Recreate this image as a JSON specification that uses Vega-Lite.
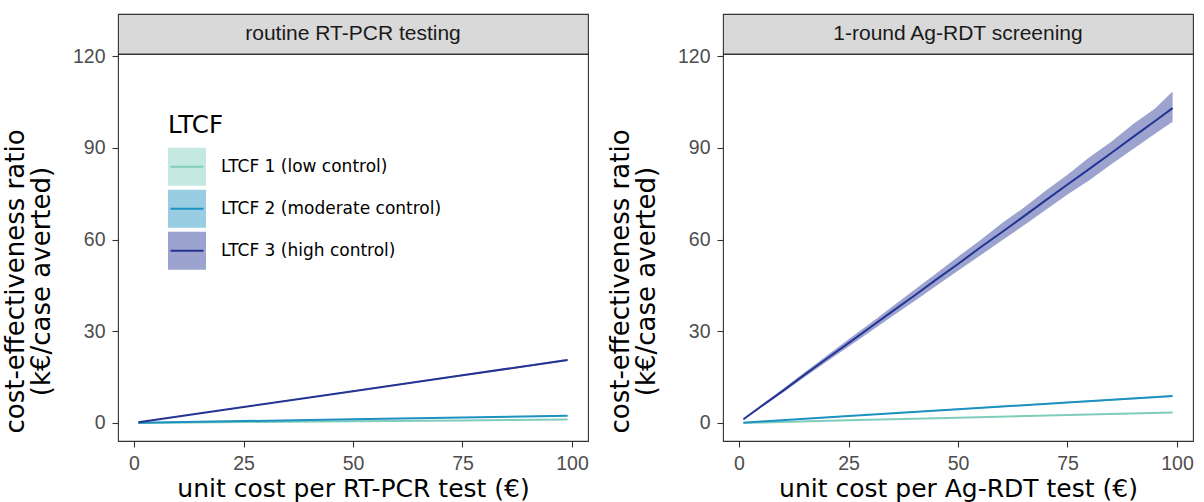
{
  "$schema": "https://vega.github.io/schema/vega-lite/v6.json",
  "background": "white",
  "padding": {"left": 1, "top": 13, "right": 4, "bottom": 0},
  "datasets": {
    "ce": [
      {"panel": "routine RT-PCR testing", "ltcf": "LTCF 1 (low control)", "cost": 1, "mean": 0.0, "lo": 0.0, "hi": 0.05},
      {"panel": "routine RT-PCR testing", "ltcf": "LTCF 1 (low control)", "cost": 25, "mean": 0.28, "lo": 0.24, "hi": 0.32},
      {"panel": "routine RT-PCR testing", "ltcf": "LTCF 1 (low control)", "cost": 50, "mean": 0.56, "lo": 0.5, "hi": 0.62},
      {"panel": "routine RT-PCR testing", "ltcf": "LTCF 1 (low control)", "cost": 75, "mean": 0.83, "lo": 0.76, "hi": 0.9},
      {"panel": "routine RT-PCR testing", "ltcf": "LTCF 1 (low control)", "cost": 99, "mean": 1.1, "lo": 1.0, "hi": 1.2},
      {"panel": "routine RT-PCR testing", "ltcf": "LTCF 2 (moderate control)", "cost": 1, "mean": 0.05, "lo": 0.02, "hi": 0.08},
      {"panel": "routine RT-PCR testing", "ltcf": "LTCF 2 (moderate control)", "cost": 25, "mean": 0.62, "lo": 0.56, "hi": 0.68},
      {"panel": "routine RT-PCR testing", "ltcf": "LTCF 2 (moderate control)", "cost": 50, "mean": 1.2, "lo": 1.12, "hi": 1.28},
      {"panel": "routine RT-PCR testing", "ltcf": "LTCF 2 (moderate control)", "cost": 75, "mean": 1.8, "lo": 1.7, "hi": 1.9},
      {"panel": "routine RT-PCR testing", "ltcf": "LTCF 2 (moderate control)", "cost": 99, "mean": 2.4, "lo": 2.28, "hi": 2.52},
      {"panel": "routine RT-PCR testing", "ltcf": "LTCF 3 (high control)", "cost": 1, "mean": 0.2, "lo": 0.15, "hi": 0.25},
      {"panel": "routine RT-PCR testing", "ltcf": "LTCF 3 (high control)", "cost": 25, "mean": 5.2, "lo": 5.05, "hi": 5.35},
      {"panel": "routine RT-PCR testing", "ltcf": "LTCF 3 (high control)", "cost": 50, "mean": 10.4, "lo": 10.2, "hi": 10.6},
      {"panel": "routine RT-PCR testing", "ltcf": "LTCF 3 (high control)", "cost": 75, "mean": 15.6, "lo": 15.35, "hi": 15.85},
      {"panel": "routine RT-PCR testing", "ltcf": "LTCF 3 (high control)", "cost": 99, "mean": 20.6, "lo": 20.3, "hi": 20.9},
      {"panel": "1-round Ag-RDT screening", "ltcf": "LTCF 1 (low control)", "cost": 1, "mean": 0.03, "lo": 0.0, "hi": 0.06},
      {"panel": "1-round Ag-RDT screening", "ltcf": "LTCF 1 (low control)", "cost": 25, "mean": 0.85, "lo": 0.78, "hi": 0.92},
      {"panel": "1-round Ag-RDT screening", "ltcf": "LTCF 1 (low control)", "cost": 50, "mean": 1.72, "lo": 1.62, "hi": 1.82},
      {"panel": "1-round Ag-RDT screening", "ltcf": "LTCF 1 (low control)", "cost": 75, "mean": 2.57, "lo": 2.45, "hi": 2.69},
      {"panel": "1-round Ag-RDT screening", "ltcf": "LTCF 1 (low control)", "cost": 99, "mean": 3.4, "lo": 3.25, "hi": 3.55},
      {"panel": "1-round Ag-RDT screening", "ltcf": "LTCF 2 (moderate control)", "cost": 1, "mean": 0.1, "lo": 0.05, "hi": 0.15},
      {"panel": "1-round Ag-RDT screening", "ltcf": "LTCF 2 (moderate control)", "cost": 25, "mean": 2.25, "lo": 2.1, "hi": 2.4},
      {"panel": "1-round Ag-RDT screening", "ltcf": "LTCF 2 (moderate control)", "cost": 50, "mean": 4.5, "lo": 4.3, "hi": 4.7},
      {"panel": "1-round Ag-RDT screening", "ltcf": "LTCF 2 (moderate control)", "cost": 75, "mean": 6.7, "lo": 6.45, "hi": 6.95},
      {"panel": "1-round Ag-RDT screening", "ltcf": "LTCF 2 (moderate control)", "cost": 99, "mean": 8.8, "lo": 8.5, "hi": 9.1},
      {"panel": "1-round Ag-RDT screening", "ltcf": "LTCF 3 (high control)", "cost": 1, "mean": 1.2, "lo": 1.0, "hi": 1.4},
      {"panel": "1-round Ag-RDT screening", "ltcf": "LTCF 3 (high control)", "cost": 5, "mean": 5.4, "lo": 5.0, "hi": 5.8},
      {"panel": "1-round Ag-RDT screening", "ltcf": "LTCF 3 (high control)", "cost": 10, "mean": 10.5, "lo": 9.9, "hi": 11.1},
      {"panel": "1-round Ag-RDT screening", "ltcf": "LTCF 3 (high control)", "cost": 15, "mean": 15.8, "lo": 15.0, "hi": 16.6},
      {"panel": "1-round Ag-RDT screening", "ltcf": "LTCF 3 (high control)", "cost": 20, "mean": 21.0, "lo": 20.0, "hi": 22.0},
      {"panel": "1-round Ag-RDT screening", "ltcf": "LTCF 3 (high control)", "cost": 25, "mean": 26.1, "lo": 24.9, "hi": 27.4},
      {"panel": "1-round Ag-RDT screening", "ltcf": "LTCF 3 (high control)", "cost": 30, "mean": 31.3, "lo": 29.9, "hi": 32.6},
      {"panel": "1-round Ag-RDT screening", "ltcf": "LTCF 3 (high control)", "cost": 35, "mean": 36.5, "lo": 34.9, "hi": 38.1},
      {"panel": "1-round Ag-RDT screening", "ltcf": "LTCF 3 (high control)", "cost": 40, "mean": 41.6, "lo": 39.8, "hi": 43.5},
      {"panel": "1-round Ag-RDT screening", "ltcf": "LTCF 3 (high control)", "cost": 45, "mean": 46.9, "lo": 44.8, "hi": 48.9},
      {"panel": "1-round Ag-RDT screening", "ltcf": "LTCF 3 (high control)", "cost": 50, "mean": 52.0, "lo": 49.8, "hi": 54.4},
      {"panel": "1-round Ag-RDT screening", "ltcf": "LTCF 3 (high control)", "cost": 55, "mean": 57.3, "lo": 54.7, "hi": 59.7},
      {"panel": "1-round Ag-RDT screening", "ltcf": "LTCF 3 (high control)", "cost": 60, "mean": 62.4, "lo": 59.7, "hi": 65.3},
      {"panel": "1-round Ag-RDT screening", "ltcf": "LTCF 3 (high control)", "cost": 65, "mean": 67.6, "lo": 64.6, "hi": 70.4},
      {"panel": "1-round Ag-RDT screening", "ltcf": "LTCF 3 (high control)", "cost": 70, "mean": 72.8, "lo": 69.7, "hi": 76.0},
      {"panel": "1-round Ag-RDT screening", "ltcf": "LTCF 3 (high control)", "cost": 75, "mean": 78.0, "lo": 74.7, "hi": 81.2},
      {"panel": "1-round Ag-RDT screening", "ltcf": "LTCF 3 (high control)", "cost": 80, "mean": 83.1, "lo": 79.4, "hi": 86.9},
      {"panel": "1-round Ag-RDT screening", "ltcf": "LTCF 3 (high control)", "cost": 85, "mean": 88.3, "lo": 84.6, "hi": 92.0},
      {"panel": "1-round Ag-RDT screening", "ltcf": "LTCF 3 (high control)", "cost": 90, "mean": 93.6, "lo": 89.6, "hi": 97.8},
      {"panel": "1-round Ag-RDT screening", "ltcf": "LTCF 3 (high control)", "cost": 95, "mean": 98.8, "lo": 94.6, "hi": 102.9},
      {"panel": "1-round Ag-RDT screening", "ltcf": "LTCF 3 (high control)", "cost": 99, "mean": 103.0, "lo": 98.5, "hi": 108.4}
    ]
  },
  "columns": 2,
  "spacing": {"row": 0, "column": 135},
  "bounds": "flush",
  "concat": [
    {
      "width": 470, "height": 40,
      "view": {"fill": "#d9d9d9", "stroke": "#333333", "strokeWidth": 1.1},
      "data": {"values": [{"panel": "routine RT-PCR testing"}]},
      "mark": {"type": "text", "font": "Liberation Sans", "fontSize": 21, "color": "#1a1a1a", "baseline": "middle", "align": "center"},
      "encoding": {"text": {"field": "panel", "type": "nominal"}}
    },
    {
      "width": 470, "height": 40,
      "view": {"fill": "#d9d9d9", "stroke": "#333333", "strokeWidth": 1.1},
      "data": {"values": [{"panel": "1-round Ag-RDT screening"}]},
      "mark": {"type": "text", "font": "Liberation Sans", "fontSize": 21, "color": "#1a1a1a", "baseline": "middle", "align": "center"},
      "encoding": {"text": {"field": "panel", "type": "nominal"}}
    },
    {
      "width": 470, "height": 387,
      "view": {"stroke": "#333333", "strokeWidth": 1.1},
      "data": {"name": "ce"},
      "transform": [{"filter": {"field": "panel", "equal": "routine RT-PCR testing"}}],
      "encoding": {
        "x": {"field": "cost", "type": "quantitative", "scale": {"domain": [-3.66, 103.66], "nice": false, "zero": false},
              "axis": {"title": "unit cost per RT-PCR test (€)", "values": [0, 25, 50, 75, 100]}}
      },
      "layer": [
        {
          "mark": {"type": "area", "opacity": 0.45},
          "encoding": {
            "y": {"field": "lo", "type": "quantitative", "scale": {"domain": [-5.9, 120.7], "nice": false, "zero": false},
                  "axis": {"title": ["cost-effectiveness ratio", "(k€/case averted)"], "values": [0, 30, 60, 90, 120], "titleY": 227}},
            "y2": {"field": "hi"},
            "fill": {"field": "ltcf", "type": "nominal",
                     "scale": {"domain": ["LTCF 1 (low control)", "LTCF 2 (moderate control)", "LTCF 3 (high control)"], "range": ["#7fcdbb", "#1d91c0", "#253494"]},
                     "legend": {"title": "LTCF", "orient": "none", "legendX": 50, "legendY": 100, "padding": 0,
                                "symbolType": "M-1.055,-1.055H1.055V1.055H-1.055Z", "symbolSize": 1296, "symbolOpacity": 0.45,
                                "symbolStrokeColor": "transparent", "symbolStrokeWidth": 2,
                                "titleFont": "DejaVu Sans", "titleFontSize": 24.5, "titleFontWeight": "normal", "titleColor": "#000000", "titlePadding": 9.2,
                                "labelFont": "DejaVu Sans", "labelFontSize": 17, "labelColor": "#000000", "labelOffset": 15, "labelLimit": 400, "rowPadding": -7.5}}
          }
        },
        {
          "mark": {"type": "line", "strokeWidth": 2},
          "encoding": {
            "y": {"field": "mean", "type": "quantitative",
                  "axis": {"title": ["cost-effectiveness ratio", "(k€/case averted)"], "values": [0, 30, 60, 90, 120], "titleY": 227}},
            "stroke": {"field": "ltcf", "type": "nominal",
                       "scale": {"range": ["#7fcdbb", "#1d91c0", "#253494"]},
                       "legend": {"title": null, "orient": "none", "legendX": 50, "legendY": 133.7, "padding": 0,
                                  "symbolType": "M-1.055,-1.055M1.055,1.055M-0.917,0H0.917", "symbolSize": 1296, "symbolOpacity": 1,
                                  "symbolStrokeWidth": 2,
                                  "labelExpr": "''", "labelFontSize": 17, "labelOffset": 15, "rowPadding": -7.5}}
          }
        }
      ]
    },
    {
      "width": 470, "height": 387,
      "view": {"stroke": "#333333", "strokeWidth": 1.1},
      "data": {"name": "ce"},
      "transform": [{"filter": {"field": "panel", "equal": "1-round Ag-RDT screening"}}],
      "encoding": {
        "x": {"field": "cost", "type": "quantitative", "scale": {"domain": [-3.66, 103.66], "nice": false, "zero": false},
              "axis": {"title": "unit cost per Ag-RDT test (€)", "values": [0, 25, 50, 75, 100]}}
      },
      "layer": [
        {
          "mark": {"type": "area", "opacity": 0.45},
          "encoding": {
            "y": {"field": "lo", "type": "quantitative", "scale": {"domain": [-5.9, 120.7], "nice": false, "zero": false},
                  "axis": {"title": ["cost-effectiveness ratio", "(k€/case averted)"], "values": [0, 30, 60, 90, 120], "titleY": 227}},
            "y2": {"field": "hi"},
            "fill": {"field": "ltcf", "type": "nominal", "legend": null}
          }
        },
        {
          "mark": {"type": "line", "strokeWidth": 2},
          "encoding": {
            "y": {"field": "mean", "type": "quantitative",
                  "axis": {"title": ["cost-effectiveness ratio", "(k€/case averted)"], "values": [0, 30, 60, 90, 120], "titleY": 227}},
            "stroke": {"field": "ltcf", "type": "nominal", "legend": null}
          }
        }
      ]
    }
  ],
  "config": {
    "font": "Liberation Sans",
    "axis": {
      "grid": false, "domain": false,
      "tickColor": "#333333", "tickSize": 6, "tickWidth": 1.1,
      "labelFont": "Liberation Sans", "labelFontSize": 19.5, "labelColor": "#4d4d4d", "labelPadding": 7, "labelFlush": false,
      "titleFont": "DejaVu Sans", "titleFontWeight": "normal", "titleColor": "#000000"
    },
    "axisX": {"titleFontSize": 25, "titlePadding": 3.5, "labelAngle": 0},
    "axisY": {"titleFontSize": 26, "titleLineHeight": 26, "titlePadding": 18}
  }
}
